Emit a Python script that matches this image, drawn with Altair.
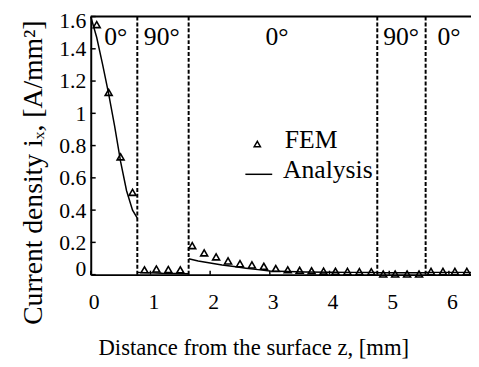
import altair as alt
import pandas as pd

# ---- data ----
boundaries = [0.78, 1.64, 4.80, 5.61]
ply_labels = ["0°", "90°", "0°", "90°", "0°"]
ply_label_x = [0.42, 1.19, 3.12, 5.20, 6.00]

fem_x = [0.1, 0.3, 0.5, 0.7,
         0.9, 1.1, 1.3, 1.5,
         1.7, 1.9, 2.1, 2.3, 2.5, 2.7, 2.9, 3.1, 3.3, 3.5, 3.7, 3.9, 4.1, 4.3, 4.5, 4.7,
         4.9, 5.1, 5.3, 5.5,
         5.7, 5.9, 6.1, 6.3]
fem_y = [1.55, 1.13, 0.73, 0.51,
         0.03, 0.035, 0.032, 0.03,
         0.18, 0.135, 0.11, 0.085, 0.068, 0.06, 0.052, 0.038, 0.03, 0.027, 0.024, 0.022,
         0.021, 0.02, 0.019, 0.018,
         0.004, 0.004, 0.004, 0.004,
         0.02, 0.02, 0.02, 0.02]

ana_seg = [1] * 9 + [2] * 3 + [3] * 13 + [4] * 2 + [5] * 2
ana_x = [0.0, 0.1, 0.2, 0.3, 0.4, 0.5, 0.6, 0.7, 0.78,
         0.78, 1.2, 1.64,
         1.64, 1.8, 2.0, 2.2, 2.4, 2.6, 2.8, 3.0, 3.3, 3.6, 4.0, 4.4, 4.8,
         4.8, 5.61,
         5.61, 6.37]
ana_y = [1.6, 1.47, 1.30, 1.12, 0.92, 0.70, 0.52, 0.40, 0.35,
         0.014, 0.008, 0.006,
         0.098, 0.085, 0.072, 0.060, 0.050, 0.040, 0.031, 0.023, 0.019, 0.017, 0.015, 0.014, 0.013,
         0.012, 0.012,
         0.014, 0.014]

x_ticks = [0, 1, 2, 3, 4, 5, 6]
y_ticks = [0, 0.2, 0.4, 0.6, 0.8, 1.0, 1.2, 1.4, 1.6]

legend_labels = ["FEM", "Analysis"]

W, H = 386, 262
FONT = "Liberation Serif"
xs = alt.Scale(domain=[0, 6.37], nice=False, zero=False)
ys = alt.Scale(domain=[0, 1.6], nice=False)

x_axis = alt.Axis(values=x_ticks, format="d", title="Distance from the surface z, [mm]",
                  labelPadding=17, labelBaseline="top", labelOffset=3,
                  labelOverlap=False, labelFlush=False,
                  titleX=165, titleY=81, titleAlign="center", titleBaseline="alphabetic",
                  titleFontSize=23)
y_axis = alt.Axis(values=y_ticks, format="~g", title="Current density iₓ, [A/mm²]",
                  labelPadding=5, labelOverlap=False,
                  labelFlush=True, labelFlushOffset=6,
                  titleX=-50, titleY=158, titleAlign="center", titleAngle=270,
                  titleBaseline="alphabetic", titleFontSize=28)


def X(field):
    return alt.X(field, scale=xs, axis=x_axis)


def Y(field):
    return alt.Y(field, scale=ys, axis=y_axis)


fem_df = pd.DataFrame({"x": fem_x, "y": fem_y})
ana_df = pd.DataFrame({"x": ana_x, "y": ana_y, "seg": ana_seg})
bnd_df = pd.DataFrame({"x": boundaries})
ply_df = pd.DataFrame({"x": ply_label_x, "y": [1.47] * 5, "t": ply_labels})
xt_df = pd.DataFrame({"x": x_ticks})
yt_df = pd.DataFrame({"y": y_ticks})

line = alt.Chart(ana_df).mark_line(color="black", strokeWidth=1.5).encode(
    x=X("x:Q"), y=Y("y:Q"), detail="seg:N")

pts = alt.Chart(fem_df).mark_point(shape="triangle-up", filled=False, color="black",
                                   size=50, strokeWidth=1.6, opacity=1).encode(
    x=X("x:Q"), y=Y("y:Q"))

dashed = alt.Chart(bnd_df).mark_rule(color="black", strokeWidth=2, strokeDash=[4, 2]).encode(
    x=X("x:Q"))

ply = alt.Chart(ply_df).mark_text(font=FONT, fontSize=26, color="black", baseline="middle").encode(
    x=X("x:Q"), y=Y("y:Q"), text="t:N")

ytick = alt.Chart(yt_df).mark_rule(color="black", strokeWidth=1.5).encode(
    y=Y("y:Q"), x=alt.value(0), x2=alt.value(5))
xtick = alt.Chart(xt_df).mark_rule(color="black", strokeWidth=1.5).encode(
    x=X("x:Q"), y=alt.value(H), y2=alt.value(H - 4))

top = alt.Chart(pd.DataFrame({"a": [0]})).mark_rule(color="black", strokeWidth=2).encode(
    x=alt.value(0), x2=alt.value(W), y=alt.value(0))

# legend built from data positions
leg_sym = alt.Chart(pd.DataFrame({"x": [2.79], "y": [0.81]})).mark_point(
    shape="triangle-up", filled=False, color="black", size=40, strokeWidth=1.5, opacity=1).encode(
    x=X("x:Q"), y=Y("y:Q"))
leg_line = alt.Chart(pd.DataFrame({"x": [2.59], "x2": [3.04], "y": [0.622]})).mark_rule(
    color="black", strokeWidth=1.5).encode(
    x=X("x:Q"), x2="x2:Q", y=Y("y:Q"))
leg_txt = alt.Chart(pd.DataFrame({"x": [3.25, 3.22], "y": [0.787, 0.598], "t": legend_labels})).mark_text(
    font=FONT, fontSize=26, color="black", align="left", baseline="alphabetic").encode(
    x=X("x:Q"), y=Y("y:Q"), text="t:N")

chart = alt.layer(line, pts, dashed, ply, ytick, xtick, top, leg_sym, leg_line, leg_txt).properties(
    width=W, height=H, autosize="none",
    padding={"left": 84, "top": 6, "right": 0, "bottom": 85},
).configure_view(stroke=None).configure_axis(
    domainColor="black", domainWidth=2, ticks=False, grid=False,
    labelFont=FONT, labelFontSize=22, labelColor="black", labelOverlap=False,
    titleFont=FONT, titleColor="black", titleFontWeight="normal",
)

chart.save("out.html", embed_options={"renderer": "svg", "actions": False})
